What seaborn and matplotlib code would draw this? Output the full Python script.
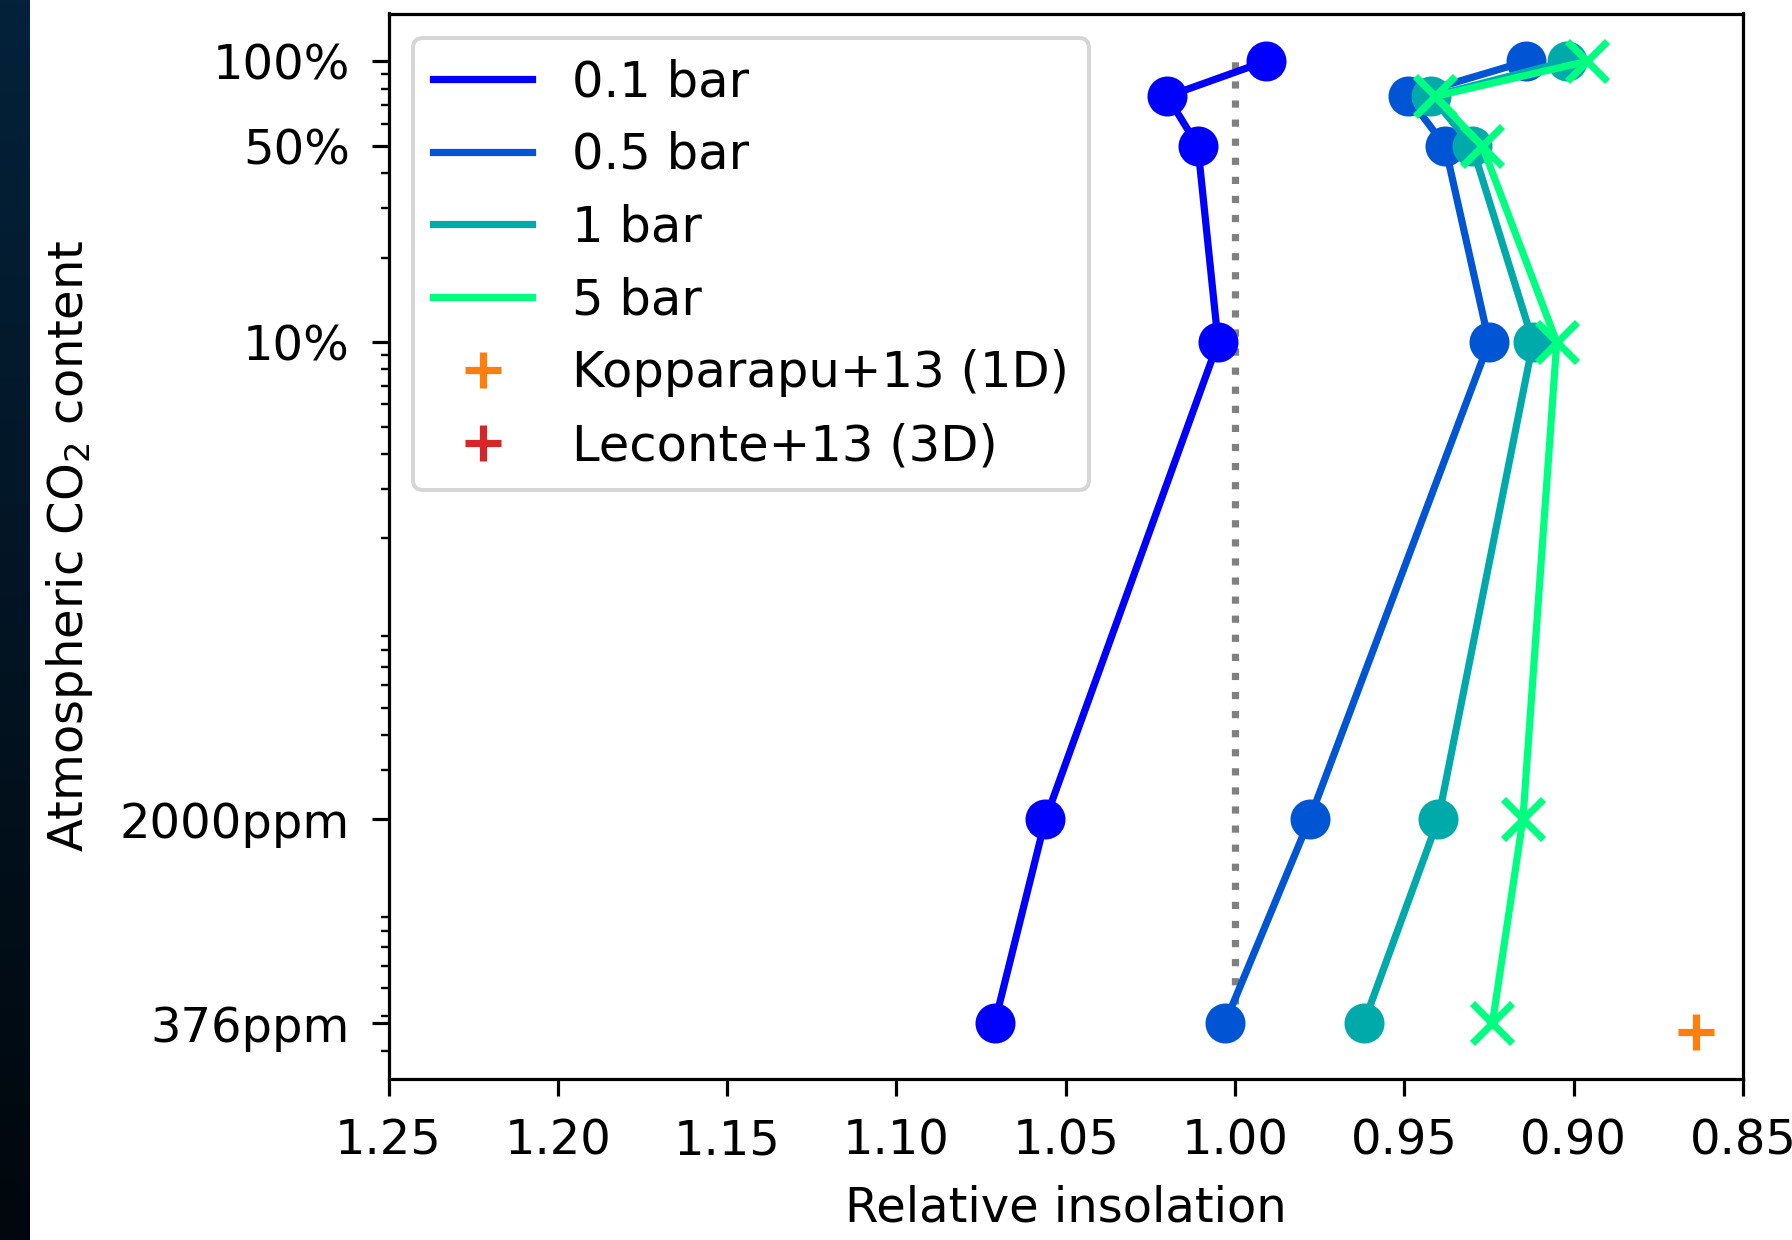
import numpy as np
import pandas as pd
import matplotlib
matplotlib.use("Agg")
import matplotlib.pyplot as plt
import seaborn as sns
from matplotlib.lines import Line2D
from matplotlib.ticker import NullFormatter
from matplotlib.colors import LinearSegmentedColormap

# ---- data ----
co2 = [1.0, 0.75, 0.5, 0.1, 0.002, 0.000376]
ins_01bar = [0.991, 1.020, 1.011, 1.005, 1.056, 1.071]
ins_05bar = [0.914, 0.949, 0.938, 0.925, 0.978, 1.003]
ins_1bar = [0.902, 0.942, 0.930, 0.912, 0.940, 0.962]
ins_5bar = [0.896, 0.941, 0.927, 0.905, 0.915, 0.924]
series_labels = ["0.1 bar", "0.5 bar", "1 bar", "5 bar"]
kopp_x = [0.864]
kopp_y = [0.00035]
leconte_x = []
leconte_y = []
ref_x = [1.0, 1.0]
ref_y = [0.000376, 1.0]
ytick_vals = [0.000376, 0.002, 0.1, 0.5, 1.0]
ytick_labels = ["376ppm", "2000ppm", "10%", "50%", "100%"]
xtick_vals = [1.25, 1.20, 1.15, 1.10, 1.05, 1.00, 0.95, 0.90, 0.85]

series = [ins_01bar, ins_05bar, ins_1bar, ins_5bar]
colors = plt.get_cmap("winter")(np.linspace(0, 1, 4))
markers = ["o", "o", "o", "x"]

DPI = 288
fig = plt.figure(figsize=(1792 / DPI, 1240 / DPI), dpi=DPI)
plt.rcParams["font.size"] = 12

# dark strip on the left edge
sax = fig.add_axes([0, 0, 30 / 1792, 1])
strip_cmap = LinearSegmentedColormap.from_list("strip", ["#04223a", "#01070c"])
sax.imshow(np.linspace(0, 1, 256).reshape(-1, 1), aspect="auto", cmap=strip_cmap)
sax.set_axis_off()

ax = fig.add_axes([388.5 / 1792, 1 - 1079 / 1240, (1743 - 388.5) / 1792, (1079 - 13.5) / 1240])

# reference dotted line
sns.lineplot(x=ref_x, y=ref_y, sort=False, estimator=None, ax=ax, color="gray",
             linestyle=":", linewidth=1.8, zorder=1.5)

for i, (vals, lab) in enumerate(zip(series, series_labels)):
    df = pd.DataFrame({"ins": vals, "co2": co2})
    if markers[i] == "o":
        kw = dict(marker="o", markersize=9, markeredgewidth=1.0)
    else:
        kw = dict(marker="x", markersize=10, markeredgewidth=1.8)
    sns.lineplot(data=df, x="ins", y="co2", sort=False, estimator=None, ax=ax,
                 color=colors[i], markerfacecolor=colors[i], markeredgecolor=colors[i],
                 linewidth=1.8, zorder=2 + i, **kw)

sns.lineplot(x=kopp_x, y=kopp_y, ax=ax, color="tab:orange", marker="+",
             markeredgecolor="tab:orange", linestyle="", markersize=9,
             markeredgewidth=1.8, zorder=7)

ax.set_yscale("log")
ax.set_xlim(1.25, 0.85)
ax.set_ylim(0.000238, 1.48)
ax.set_yticks(ytick_vals)
ax.set_yticklabels(ytick_labels)
ax.yaxis.set_minor_formatter(NullFormatter())
ax.set_xticks(xtick_vals)
ax.set_xticklabels([f"{v:.2f}" for v in xtick_vals])
ax.tick_params(which="major", length=4.2, pad=5.5)
ax.set_xlabel("Relative insolation", labelpad=5)
ax.set_ylabel("Atmospheric CO$_2$ content", labelpad=6)

handles = [Line2D([], [], color=colors[i], lw=1.8) for i in range(4)]
handles += [Line2D([], [], color="tab:orange", marker="+", ls="", markersize=9, markeredgewidth=1.8),
            Line2D([], [], color="tab:red", marker="+", ls="", markersize=9, markeredgewidth=1.8)]
leg_labels = series_labels + ["Kopparapu+13 (1D)", "Leconte+13 (3D)"]
ax.legend(handles, leg_labels, loc="upper left", handlelength=2.0, fontsize=12.4)

fig.savefig("out.png", dpi=DPI)
